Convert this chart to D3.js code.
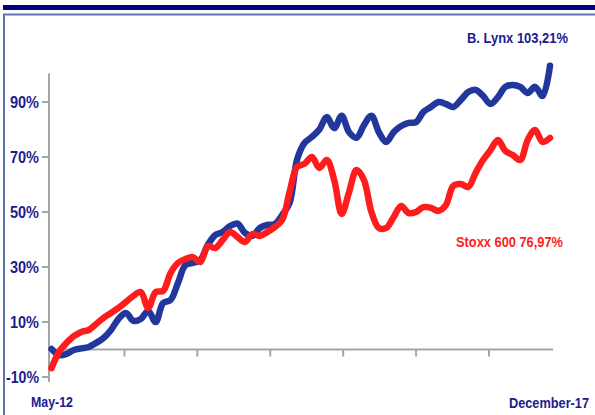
<!DOCTYPE html>
<html>
<head>
<meta charset="utf-8">
<script src="https://cdn.jsdelivr.net/npm/d3@7"></script>
<style>
  html, body { margin: 0; padding: 0; background: #fff; }
  svg { display: block; }
  text { font-family: "Liberation Sans", Arial, sans-serif; font-weight: bold; }
</style>
</head>
<body>
<div id="chart"></div>
<script>
// monthly, May-12 .. Dec-17 (68 points), performance in %
const months = d3.range(68);
const lynx = [
  0.2, -2.0, -1.6, -0.2, 0.4, 0.9, 2.4, 4.2, 7.1, 11.1,
  13.3, 10.4, 11.1, 14.0, 10.0, 16.9, 18.0, 24.2, 30.7, 31.5,
  32.5, 38.0, 41.6, 42.7, 44.9, 45.8, 42.4, 41.3, 44.2, 45.3,
  45.6, 48.9, 53.3, 69.0, 75.1, 77.3, 80.0, 84.5, 80.5, 85.0,
  79.0, 77.0, 81.6, 85.0, 79.0, 75.5, 79.1, 81.3, 82.4, 82.7,
  86.4, 88.2, 90.0, 89.3, 88.2, 90.7, 93.6, 94.4, 92.2, 89.3,
  91.8, 95.5, 96.2, 95.5, 93.3, 95.5, 92.2, 103.21
];
const stoxx = [
  -6.8, -0.9, 2.4, 4.9, 6.4, 7.1, 9.3, 11.5, 13.3, 15.1,
  17.3, 19.5, 20.9, 15.1, 20.9, 21.3, 27.8, 31.5, 32.9, 33.6,
  31.8, 37.6, 36.9, 39.8, 42.7, 40.9, 39.1, 42.0, 41.3, 42.7,
  44.5, 47.1, 57.3, 66.4, 67.5, 70.0, 66.0, 68.9, 61.6, 49.3,
  57.3, 65.3, 61.6, 50.0, 44.2, 44.2, 48.2, 52.2, 49.6, 50.0,
  51.8, 51.5, 50.4, 52.5, 59.5, 60.2, 59.1, 64.2, 68.9, 72.5,
  76.2, 72.2, 70.7, 68.9, 76.2, 79.8, 75.5, 76.97
];
const yTicks = [-10, 10, 30, 50, 70, 90];
const xTicks = [9.8, 19.6, 29.4, 39.2, 49.0, 58.8];
const firstLabel = "May-12";
const lastLabel = "December-17";
const lynxLabel = "B. Lynx 103,21%";
const stoxxLabel = "Stoxx 600 76,97%";

const W = 595, H = 415;
const NAVY = "#1c1c8e", BLUE = "#21379c", RED = "#ff1c1c", GREY = "#a6a6a6";

const svg = d3.select("#chart").append("svg")
  .attr("width", W).attr("height", H);

// squeeze text to the narrow look of the original
const narrow = function (sel, w) {
  sel.attr("textLength", w).attr("lengthAdjust", "spacingAndGlyphs");
};

// frame
svg.append("rect").attr("x", 3).attr("y", 5).attr("width", W - 3).attr("height", 5).attr("fill", "#000080");
svg.append("path").attr("d", `M4,${H} V14.5 H${W}`)
  .attr("fill", "none").attr("stroke", "#5f73b2").attr("stroke-width", 2);

const x = d3.scaleLinear().domain([0, 67]).range([51.5, 550]);
const y = d3.scaleLinear().domain([-10, 100]).range([377, 74.5]);

// y axis
svg.append("line").attr("x1", 49).attr("x2", 49).attr("y1", y(100) - 1).attr("y2", y(-10) + 5)
  .attr("stroke", GREY).attr("stroke-width", 2);
svg.selectAll(".ytick").data(yTicks).enter().append("line")
  .attr("x1", 42).attr("x2", 49).attr("y1", d => y(d)).attr("y2", d => y(d))
  .attr("stroke", GREY).attr("stroke-width", 2);
svg.selectAll(".ylab").data(yTicks).enter().append("text")
  .attr("x", 39).attr("y", d => y(d)).attr("dy", "0.36em")
  .attr("text-anchor", "end").attr("fill", NAVY).style("font-size", "16px")
  .attr("textLength", d => d < 0 ? 33 : 29).attr("lengthAdjust", "spacingAndGlyphs")
  .text(d => d + "%");

// x axis at 0%
svg.append("line").attr("x1", 49).attr("x2", 553).attr("y1", y(0)).attr("y2", y(0))
  .attr("stroke", GREY).attr("stroke-width", 2);
svg.selectAll(".xtick").data(xTicks).enter().append("line")
  .attr("x1", d => x(d)).attr("x2", d => x(d)).attr("y1", y(0)).attr("y2", y(0) + 7)
  .attr("stroke", GREY).attr("stroke-width", 2);

svg.append("text").attr("x", 31).attr("y", 407).attr("fill", NAVY).style("font-size", "15px")
  .text(firstLabel).call(narrow, 42);
svg.append("text").attr("transform", "translate(509,408) scale(1,1.15)")
  .attr("fill", NAVY).style("font-size", "13px")
  .text(lastLabel).call(narrow, 80);

// series
const line = d3.line().x((d, i) => x(months[i])).y(d => y(d)).curve(d3.curveCatmullRom.alpha(0.5));
svg.append("path").datum(lynx).attr("d", line)
  .attr("fill", "none").attr("stroke", BLUE).attr("stroke-width", 6.5)
  .attr("stroke-linejoin", "round").attr("stroke-linecap", "round");
svg.append("path").datum(stoxx).attr("d", line)
  .attr("fill", "none").attr("stroke", RED).attr("stroke-width", 6.5)
  .attr("stroke-linejoin", "round").attr("stroke-linecap", "round");

// end labels
svg.append("text").attr("x", 467).attr("y", 43)
  .attr("fill", NAVY).style("font-size", "15px").text(lynxLabel).call(narrow, 101);
svg.append("text").attr("x", 456).attr("y", 247)
  .attr("fill", RED).style("font-size", "15px").text(stoxxLabel).call(narrow, 107);
</script>
</body>
</html>
